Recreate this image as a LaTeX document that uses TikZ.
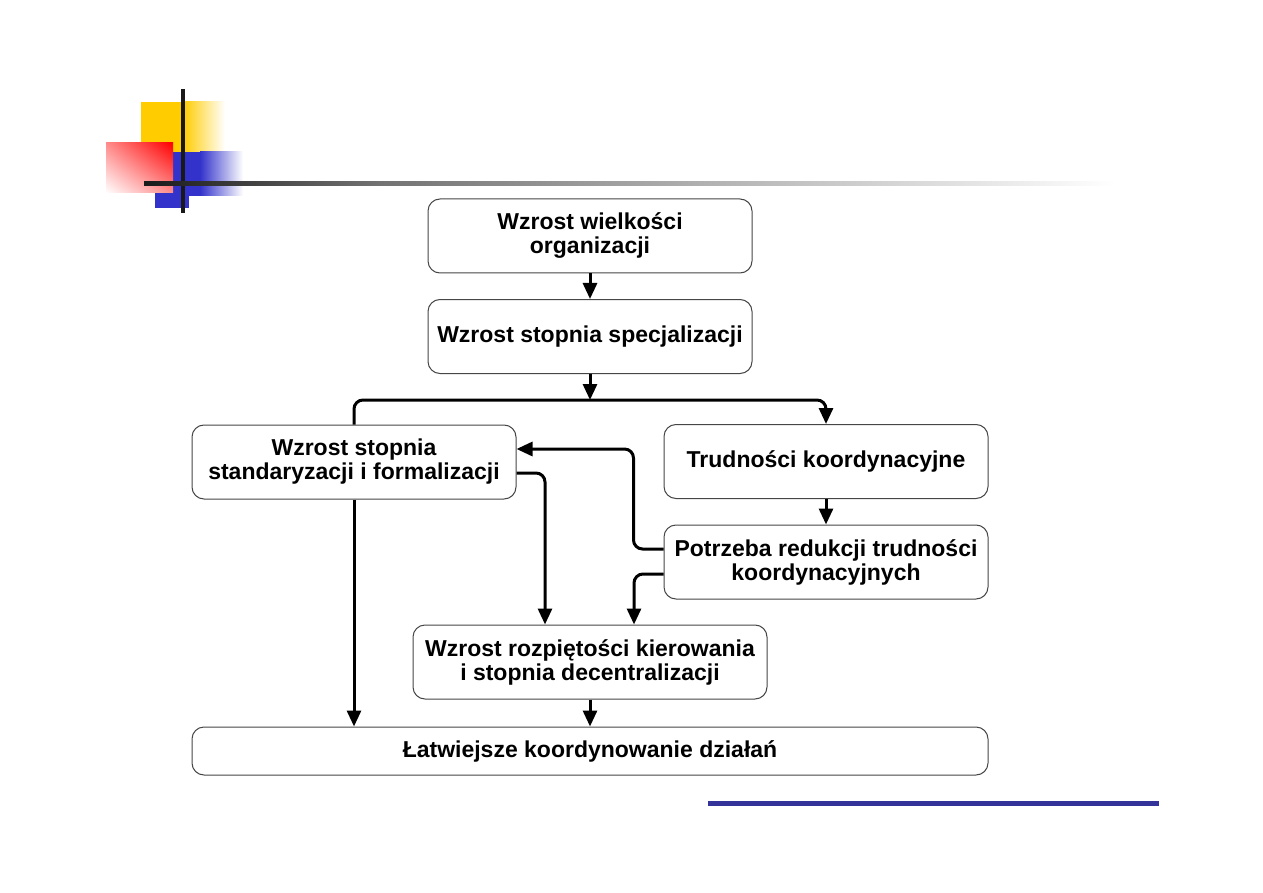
\documentclass[tikz,border=0pt]{standalone}
\usepackage{fontspec}
\setmainfont{Liberation Sans}
\usepackage{xcolor}
\usepackage{tikz}
\usetikzlibrary{arrows.meta, positioning, calc, shadings}
\definecolor{boxline}{RGB}{70,70,70}
\definecolor{myyellow}{RGB}{255,204,0}
\definecolor{myred}{RGB}{255,0,0}
\definecolor{myblue}{RGB}{51,51,204}
\definecolor{mynavy}{RGB}{51,51,153}
\definecolor{mydark}{RGB}{25,25,25}
\tikzset{
  block/.style={rectangle, draw=boxline, fill=white, line width=1pt,
    rounded corners=12pt, align=center, inner sep=2pt,
    minimum width=324pt, minimum height=74pt,
    font=\fontsize{23}{24}\selectfont\bfseries},
  arrow/.style={-{Triangle[length=16pt,width=14pt]}, line width=3pt,
    rounded corners=9pt, color=black},
  line/.style={line width=3pt, rounded corners=9pt, color=black}
}
\begin{document}
\begin{tikzpicture}[x=1pt, y=-1pt]
  \useasboundingbox (0,0) rectangle (1263,893);

  % slide ornament
  \fill[myyellow] (141,102) rectangle (183,152);
  \shade[left color=myyellow, right color=white] (183,102) rectangle (225,152);
  \fill[myblue] (155,152) rectangle (189,208);
  \fill[myblue] (189,152) rectangle (200,196);
  \shade[left color=myblue, right color=white] (200,152) rectangle (243,196);
  \shade[upper right=myred, lower left=white, upper left=myred!45!white,
    lower right=myred!45!white] (106,143) rectangle (173,193);
  \fill[mydark] (181,89) rectangle (185,213);
  \shade[left color=black!90, right color=black!55] (144,181.5) rectangle (380,186);
  \shade[left color=black!55, right color=white] (380,181.5) rectangle (1115,186);
  \fill[mynavy] (708,801) rectangle (1159,806);

  % boxes
  \node[block] (size) at (590,236) {Wzrost wielkości\\organizacji};
  \node[block] (spec) at (590,336.5) {Wzrost stopnia specjalizacji};
  \node[block] (std) at (354,462) {Wzrost stopnia\\standaryzacji i formalizacji};
  \node[block] (trud) at (826,461.5) {Trudności koordynacyjne};
  \node[block] (need) at (826,562) {Potrzeba redukcji trudności\\koordynacyjnych};
  \node[block, minimum width=354pt] (span) at (590,662) {Wzrost rozpiętości kierowania\\i stopnia decentralizacji};
  \node[block, minimum width=796pt, minimum height=48pt] (easy) at (590,751) {Łatwiejsze koordynowanie działań};

  % connections
  \coordinate (split) at (590,400);
  \draw[arrow] (size) -- (spec);
  \draw[arrow] (spec) -- (split);
  \draw[arrow] (std.north) |- (split) -| (trud.north);
  \draw[arrow] (trud) -- (need);
  \draw[arrow] ([yshift=13pt]need.west) -- ++(-30,0) |- ([yshift=13pt]std.east);
  \draw[arrow] ([yshift=-11pt]std.east) -| ([xshift=-45pt]span.north);
  \draw[arrow] ([yshift=-12pt]need.west) -| ([xshift=44pt]span.north);
  \draw[arrow] (std.south) -- (std.south |- easy.north);
  \draw[arrow] (span) -- (easy);
\end{tikzpicture}
\end{document}
